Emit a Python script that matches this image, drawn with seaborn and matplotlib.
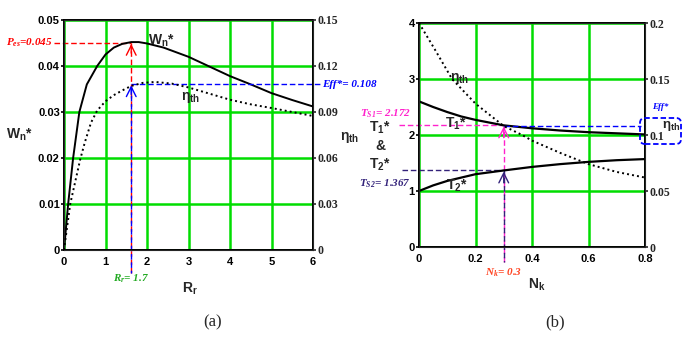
import matplotlib
matplotlib.use("Agg")
import matplotlib.pyplot as plt
from matplotlib.patches import FancyBboxPatch
from matplotlib.transforms import IdentityTransform
import numpy as np
import pandas as pd
import seaborn as sns

# ---------------------------------------------------------------- data ---- #
# panel (a): W_n* (left axis) and eta_th (right axis) against R_r
rr_w = [0, 0.1, 0.22, 0.37, 0.55, 0.8, 1.0, 1.2, 1.4, 1.62, 1.8, 2.0, 2.4, 3.0, 3.5, 4.0, 4.5, 5.0, 5.5, 6.0]
wn = [0, 0.010, 0.020, 0.030, 0.036, 0.040, 0.0425, 0.0440, 0.0448, 0.0452, 0.0452, 0.0449,
      0.0440, 0.0420, 0.0399, 0.0378, 0.0360, 0.0341, 0.0326, 0.0312]
rr_e = [0, 0.15, 0.39, 0.5, 0.65, 0.8, 1.0, 1.2, 1.4, 1.62, 1.9, 2.2, 2.6, 3.0, 3.5, 4.0, 4.5, 5.0, 5.5, 6.0]
eta_a = [0, 0.030, 0.059, 0.070, 0.083, 0.091, 0.097, 0.101, 0.104, 0.107, 0.109, 0.1096,
         0.1085, 0.106, 0.102, 0.098, 0.095, 0.0926, 0.0900, 0.0874]
rr_opt, pes, eff_a = 1.62, 0.045, 0.108

# panel (b): T1*, T2* (left axis) and eta_th (right axis) against N_k
nk = [0, 0.05, 0.1, 0.15, 0.2, 0.3, 0.4, 0.5, 0.6, 0.7, 0.8]
t1 = [2.60, 2.50, 2.41, 2.33, 2.27, 2.172, 2.12, 2.08, 2.05, 2.03, 2.01]
t2 = [1.00, 1.10, 1.18, 1.24, 1.30, 1.367, 1.43, 1.48, 1.52, 1.55, 1.57]
nk_e = [0, 0.057, 0.117, 0.2, 0.3, 0.365, 0.4, 0.5, 0.57, 0.6, 0.7, 0.8]
eta_b = [0.200, 0.176, 0.150, 0.128, 0.108, 0.100, 0.095, 0.084, 0.077, 0.074, 0.067, 0.062]
nk_opt, ts1, ts2, eff_b = 0.3, 2.172, 1.367, 0.108

xt_a = [0, 1, 2, 3, 4, 5, 6]
yl_a = ["0", "0.01", "0.02", "0.03", "0.04", "0.05"]
yr_a = ["0", "0.03", "0.06", "0.09", "0.12", "0.15"]
xt_b = ["0", "0.2", "0.4", "0.6", "0.8"]
yl_b = ["0", "1", "2", "3", "4"]
yr_b = ["0", "0.05", "0.1", "0.15", "0.2"]

# ---------------------------------------------------------------- style --- #
sns.set_style("white")
plt.rcParams["font.family"] = ["Liberation Sans", "DejaVu Sans"]
plt.rcParams["mathtext.default"] = "regular"

GREEN = "#00dd00"
SANS = dict(family="Liberation Sans", weight="bold", size=8)
SERIF = dict(family="Liberation Serif", weight="bold", size=8.5)
NOTE = dict(family="Liberation Serif", style="italic", weight="bold", size=8)

fig = plt.figure(figsize=(6.94, 3.39), dpi=100)


def frame(ax, xticks, xlabels, yticks, ylabels, xlim, ylim):
    ax.set_xlim(*xlim)
    ax.set_ylim(*ylim)
    ax.set_xticks(xticks, xlabels, **SANS)
    ax.set_yticks(yticks, ylabels, **SANS)
    ax.grid(True, color=GREEN, lw=1.8, zorder=0)
    for s in ax.spines.values():
        s.set_color("black")
        s.set_linewidth(1.4)
        s.set_visible(True)
    ax.tick_params(length=2, width=1.2, pad=1, colors="black")
    ax.set_axisbelow(True)


def arrow(ax, x, y, dy, color):
    ax.annotate("", xy=(x, y), xytext=(x, y - dy),
                arrowprops=dict(arrowstyle="->,head_length=0.7,head_width=0.35",
                                color=color, lw=1.0, shrinkA=0, shrinkB=0),
                annotation_clip=False)


# -------------------------------------------------------------- panel a --- #
ax = fig.add_axes([64 / 694, 89 / 339, 249 / 694, 230 / 339])
frame(ax, xt_a, [str(v) for v in xt_a], np.linspace(0, 0.05, 6), yl_a, (0, 6), (0, 0.05))
ax.tick_params(axis="x", pad=3)
axr = ax.twinx()
axr.set_ylim(0, 0.15)
axr.set_yticks(np.linspace(0, 0.15, 6), yr_a, **SERIF)
axr.tick_params(length=2, width=1.2, pad=1)
axr.grid(False)

sns.lineplot(x=rr_w, y=wn, ax=ax, color="black", lw=1.4, zorder=3)
sns.lineplot(x=rr_e, y=eta_a, ax=axr, color="black", lw=1.4, linestyle=(0, (1, 1.6)), zorder=3)

ax.plot([-0.24, rr_opt], [pes, pes], color="red", lw=1.0, ls=(0, (4, 2)), clip_on=False)
ax.plot([rr_opt, rr_opt], [-0.005, pes], color="red", lw=1.0, ls=(0, (4, 2)), clip_on=False)
ax.plot([rr_opt, rr_opt], [-0.005, eff_a / 3], color="blue", lw=1.0, ls=(2, (4, 2)), clip_on=False)
axr.plot([rr_opt, 6.17], [eff_a, eff_a], color="blue", lw=1.0, ls=(0, (4, 2)), clip_on=False)
arrow(ax, rr_opt, pes - 0.0002, 0.002, "red")
arrow(ax, rr_opt, eff_a / 3 - 0.0002, 0.002, "blue")

ax.text(-0.27, pes, r"$P_{es}$=0.045", color="red", ha="right", va="center", **NOTE)
axr.text(6.22, eff_a, "Eff*= 0.108", color="blue", ha="left", va="center", **NOTE)
ax.text(rr_opt, -0.0062, r"$R_r$= 1.7", color="#22aa22", ha="center", va="center", **NOTE)
ax.text(2.35, 0.0455, r"W$_{n}$*", fontsize=10, fontweight="bold", ha="center", va="center")
ax.text(3.05, 0.0332, r"η$_{th}$", fontsize=10, fontweight="bold", ha="center", va="center")

ax.set_xlabel(r"R$_r$", fontsize=10, fontweight="bold")
ax.xaxis.set_label_coords(0.506, -0.135)
ax.set_ylabel(r"W$_n$*", fontsize=10, fontweight="bold", rotation=0)
ax.yaxis.set_label_coords(-0.177, 0.5)
axr.set_ylabel(r"η$_{th}$", fontsize=10, fontweight="bold", rotation=0)
axr.yaxis.set_label_coords(1.149, 0.487)
for a in (ax, axr):
    a.yaxis.label.set_va("center")
    a.yaxis.label.set_ha("center")

# -------------------------------------------------------------- panel b --- #
bx = fig.add_axes([419 / 694, 92 / 339, 226 / 694, 224 / 339])
frame(bx, [0, 0.2, 0.4, 0.6, 0.8], xt_b, [0, 1, 2, 3, 4], yl_b, (0, 0.8), (0, 4))
bx.tick_params(axis="x", pad=3)
bxr = bx.twinx()
bxr.set_ylim(0, 0.2)
bxr.set_yticks([0, 0.05, 0.1, 0.15, 0.2], yr_b, **SERIF)
bxr.tick_params(length=2, width=1.2, pad=1)
bxr.grid(False)

sns.lineplot(x=nk, y=t1, ax=bx, color="black", lw=1.6, zorder=3)
sns.lineplot(x=nk, y=t2, ax=bx, color="black", lw=1.6, zorder=3)
sns.lineplot(x=nk_e, y=eta_b, ax=bxr, color="black", lw=1.4, linestyle=(0, (1, 1.6)), zorder=3)

MAG, PUR = "#ff22cc", "#33227a"
bx.plot([-0.07, nk_opt], [ts1, ts1], color=MAG, lw=1.0, ls=(0, (4, 2)), clip_on=False)
bx.plot([-0.06, nk_opt], [ts2, ts2], color=PUR, lw=1.0, ls=(0, (4, 2)), clip_on=False)
bx.plot([nk_opt, nk_opt], [-0.27, ts1], color=MAG, lw=1.0, ls=(0, (4, 2)), clip_on=False)
bx.plot([nk_opt, nk_opt], [-0.27, ts2], color=PUR, lw=1.0, ls=(3, (4, 2)), clip_on=False)
bxr.plot([nk_opt, 0.785], [eff_b, eff_b], color="blue", lw=1.0, ls=(0, (4, 2)), clip_on=False)
arrow(bx, nk_opt, ts1 - 0.02, 0.2, MAG)
arrow(bx, nk_opt, ts2 - 0.02, 0.2, PUR)

bx.text(-0.03, 2.375, r"$T_{S1}$= 2.172", color=MAG, ha="right", va="center", **NOTE)
bx.text(-0.03, 1.125, r"$T_{S2}$= 1.367", color=PUR, ha="right", va="center", **NOTE)
bx.text(nk_opt, -0.46, r"$N_k$= 0.3", color="#ff4422", ha="center", va="center", **NOTE)
bx.text(0.853, 2.5, "Eff*", color="blue", ha="center", va="center",
        family="Liberation Serif", style="italic", weight="bold", size=6.5, clip_on=False)
bx.text(0.145, 3.0, r"η$_{th}$", fontsize=10, fontweight="bold", ha="center", va="center")
bx.text(0.13, 2.2, r"T$_1$*", fontsize=10, fontweight="bold", ha="center", va="center")
bx.text(0.135, 1.1, r"T$_2$*", fontsize=10, fontweight="bold", ha="center", va="center")

bx.set_xlabel(r"N$_k$", fontsize=10, fontweight="bold")
bx.xaxis.set_label_coords(0.522, -0.134)
bx.set_ylabel("T$_1$*\n&\nT$_2$*", fontsize=10, fontweight="bold", rotation=0, linespacing=1.3)
bx.yaxis.set_label_coords(-0.173, 0.45)
bxr.set_ylabel(r"η$_{th}$", fontsize=9.5, fontweight="bold", rotation=0)
bxr.yaxis.set_label_coords(1.115, 0.54)
for a in (bx, bxr):
    a.yaxis.label.set_va("center")
    a.yaxis.label.set_ha("center")

# dashed rounded box round the right-hand eta label of panel (b)
fig.add_artist(FancyBboxPatch((640, 339 - 144), 41, 26, boxstyle="round,pad=0,rounding_size=5",
                              transform=IdentityTransform(), ec="blue", fc="none",
                              ls=(0, (3, 1.5)), lw=1.3))

fig.text(213 / 694, 1 - 322 / 339, "(a)", family="Liberation Serif", size=12, ha="center", va="center")
fig.text(555 / 694, 1 - 322 / 339, "(b)", family="Liberation Serif", size=12, ha="center", va="center")

fig.savefig("out.png", dpi=100, facecolor="white")
